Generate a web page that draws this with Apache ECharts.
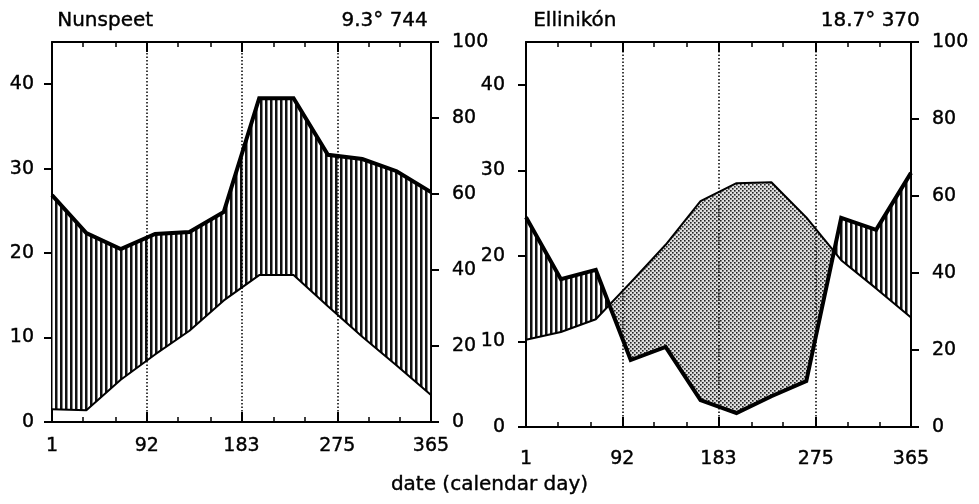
<!DOCTYPE html>
<html>
<head>
<meta charset="utf-8">
<script src="https://cdn.jsdelivr.net/npm/echarts@6/dist/echarts.min.js"></script>
<style>
html,body{margin:0;padding:0;background:#fff;}
#chart{width:979px;height:504px;}
</style>
</head>
<body>
<div id="chart"></div>
<script>
// ---- data ----
const days = [1, 34, 67, 100, 133, 166, 200, 233, 266, 299, 332, 365];
const nunTemp = [1.5, 1.4, 5.0, 8.0, 10.8, 14.4, 17.4, 17.4, 13.7, 10.1, 6.7, 3.2];
const nunPrec = [59.7, 49.7, 45.5, 49.5, 50.0, 55.3, 85.2, 85.2, 70.3, 69.2, 66.0, 60.5];
const ellTemp = [10.2, 11.1, 12.6, 16.9, 21.3, 26.4, 28.5, 28.6, 24.5, 19.5, 16.2, 12.8];
const ellPrec = [54.5, 38.4, 40.8, 17.4, 20.8, 7.0, 3.6, 8.0, 11.9, 54.3, 51.2, 66.0];
const dayLabels = [1, 92, 183, 275, 365];
const dayMajor = [92, 183, 275];
const monthTicks = [1, 31, 62, 92, 122, 153, 183, 214, 244, 275, 305, 335, 365];
const tempTicks = [0, 10, 20, 30, 40];
const precTicks = [0, 20, 40, 60, 80, 100];
const TEMP_MAX = 45, PREC_MAX = 100;
const stations = [
  {name: 'Nunspeet', info: '9.3° 744'},
  {name: 'Ellinikón', info: '18.7° 370'}
];
const xTitle = 'date (calendar day)';

// ---- patterns ----
function makeHatch() {
  const c = document.createElement('canvas'); c.width = 5; c.height = 4;
  const g = c.getContext('2d');
  g.fillStyle = '#fff'; g.fillRect(0, 0, 5, 4);
  g.fillStyle = '#111'; g.fillRect(0, 0, 2.5, 4);
  return {image: c, repeat: 'repeat'};
}
function makeDots() {
  const c = document.createElement('canvas'); c.width = 4; c.height = 4;
  const g = c.getContext('2d');
  g.fillStyle = '#dedede'; g.fillRect(0, 0, 4, 4);
  g.fillStyle = '#222';
  g.fillRect(0, 0, 1.6, 1.6);
  g.fillRect(2, 2, 1.6, 1.6);
  return {image: c, repeat: 'repeat'};
}
const hatch = makeHatch();
const dots = makeDots();

function splitRegions(xs, T, P) {
  const Pc = P.map(v => v * TEMP_MAX / PREC_MAX);
  const out = [];
  let type = null, upper = [], lower = [];
  const push = (x, t, p) => { upper.push([x, Math.max(t, p)]); lower.push([x, Math.min(t, p)]); };
  const close = () => { if (upper.length > 1) out.push({type, pts: upper.concat(lower.slice().reverse())}); upper = []; lower = []; };
  for (let i = 0; i < xs.length; i++) {
    const d = Pc[i] - T[i];
    const s = d >= 0 ? 'humid' : 'arid';
    if (i === 0) { type = s; push(xs[i], T[i], Pc[i]); continue; }
    const dp = Pc[i - 1] - T[i - 1];
    if ((dp >= 0) !== (d >= 0)) {
      const t = dp / (dp - d);
      const xc = xs[i - 1] + t * (xs[i] - xs[i - 1]);
      const yc = T[i - 1] + t * (T[i] - T[i - 1]);
      push(xc, yc, yc); close(); type = s; push(xc, yc, yc);
    }
    push(xs[i], T[i], Pc[i]);
  }
  close();
  return out;
}

const FONT = 'DejaVu Sans';
const FS = 20;
const AFS = 19;
const labelStyle = {color: '#000', fontSize: AFS, fontFamily: FONT, textBorderColor: '#000', textBorderWidth: 0.4};

const grids = [
  {left: 52, top: 42, width: 379, height: 380},
  {left: 526, top: 42, width: 385, height: 385}
];
const xLabelMargin = [15, 23];

const xAxes = [], yAxes = [], series = [], graphics = [];
grids.forEach((g, gi) => {
  const base = {type: 'value', gridIndex: gi, min: 1, max: 365, splitLine: {show: false}};
  xAxes.push(Object.assign({}, base, {
    position: 'bottom',
    axisLine: {show: true, lineStyle: {color: '#000', width: 2}},
    axisTick: {show: true, inside: true, length: 5, customValues: monthTicks, lineStyle: {color: '#000', width: 1.5}},
    axisLabel: Object.assign({show: true, customValues: dayLabels, margin: xLabelMargin[gi]}, labelStyle)
  }));
  xAxes.push(Object.assign({}, base, {
    position: 'bottom',
    axisLine: {show: false},
    axisTick: {show: true, inside: true, length: 10, customValues: dayMajor, lineStyle: {color: '#000', width: 2}},
    axisLabel: {show: false}
  }));
  xAxes.push(Object.assign({}, base, {
    position: 'top',
    axisLine: {show: true, lineStyle: {color: '#000', width: 2}},
    axisTick: {show: true, inside: true, length: 5, customValues: monthTicks, lineStyle: {color: '#000', width: 1.5}},
    axisLabel: {show: false}
  }));
  xAxes.push(Object.assign({}, base, {
    position: 'top',
    axisLine: {show: false},
    axisTick: {show: true, inside: true, length: 10, customValues: dayMajor, lineStyle: {color: '#000', width: 2}},
    axisLabel: {show: false}
  }));
  yAxes.push({
    type: 'value', gridIndex: gi, position: 'left', min: 0, max: TEMP_MAX,
    splitLine: {show: false},
    axisLine: {show: true, lineStyle: {color: '#000', width: 2}},
    axisTick: {show: true, inside: false, length: 8, customValues: tempTicks, lineStyle: {color: '#000', width: 2}},
    axisLabel: Object.assign({customValues: tempTicks, margin: gi === 0 ? 18 : 21}, labelStyle)
  });
  yAxes.push({
    type: 'value', gridIndex: gi, position: 'right', min: 0, max: PREC_MAX, interval: 20,
    splitLine: {show: false},
    axisLine: {show: true, lineStyle: {color: '#000', width: 2}},
    axisTick: {show: true, inside: false, length: 8, customValues: precTicks, lineStyle: {color: '#000', width: 2}},
    axisLabel: Object.assign({customValues: precTicks, margin: 21}, labelStyle)
  });
});

const dataSets = [[nunTemp, nunPrec], [ellTemp, ellPrec]];
dataSets.forEach(([T, P], gi) => {
  const regions = splitRegions(days, T, P);
  series.push({
    type: 'custom',
    xAxisIndex: gi * 4, yAxisIndex: gi * 2,
    data: [[180, 10]],
    silent: true,
    z: 1,
    renderItem: function (params, api) {
      return {
        type: 'group',
        children: regions.map(r => ({
          type: 'polygon',
          shape: {points: r.pts.map(p => api.coord(p))},
          style: {fill: r.type === 'humid' ? hatch : dots, stroke: null}
        }))
      };
    }
  });
  series.push({
    type: 'line',
    xAxisIndex: gi * 4, yAxisIndex: gi * 2,
    data: days.map((d, i) => [d, T[i]]),
    symbol: 'none', silent: true, z: 3,
    lineStyle: {color: '#000', width: 2},
    markLine: {
      silent: true, symbol: 'none', label: {show: false},
      lineStyle: {color: '#000', width: 1.5, type: [1.5, 2]},
      data: dayMajor.map(v => ({xAxis: v}))
    }
  });
  series.push({
    type: 'line',
    xAxisIndex: gi * 4, yAxisIndex: gi * 2 + 1,
    data: days.map((d, i) => [d, P[i]]),
    symbol: 'none', silent: true, z: 4,
    lineStyle: {color: '#000', width: 4, join: 'miter'}
  });
});

const txt = (extra, text) => Object.assign({type: 'text', style: {text: text, font: FS + 'px "' + FONT + '"', fill: '#000', stroke: '#000', lineWidth: 0.4}}, extra);
graphics.push(
  txt({left: 57, top: 11}, stations[0].name),
  txt({right: 979 - 428, top: 11}, stations[0].info),
  txt({left: 533, top: 11}, stations[1].name),
  txt({right: 979 - 920, top: 11}, stations[1].info),
  txt({left: 'center', top: 475}, xTitle)
);

const chart = echarts.init(document.getElementById('chart'), null, {renderer: 'canvas'});
chart.setOption({
  animation: false,
  backgroundColor: '#fff',
  grid: grids,
  xAxis: xAxes,
  yAxis: yAxes,
  series: series,
  graphic: graphics
});
</script>
</body>
</html>
